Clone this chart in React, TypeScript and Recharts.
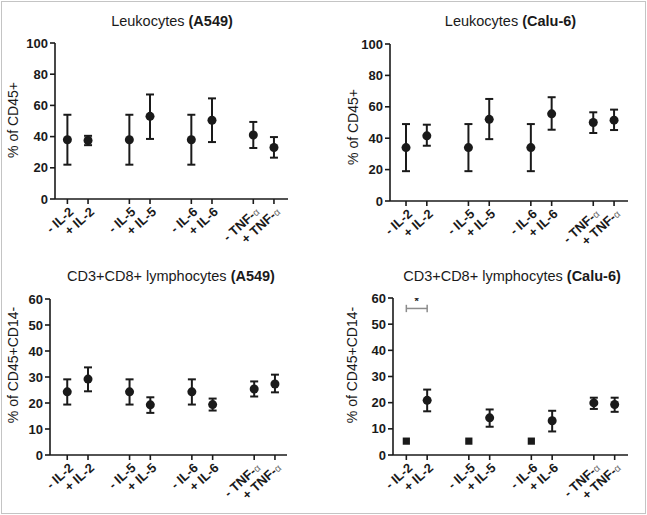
import React from 'react';
import { ScatterChart, Scatter, XAxis, YAxis, ErrorBar, ReferenceLine } from 'recharts';

// ---------- data ----------
const positions = [0, 1, 3, 4, 6, 7, 9, 10];
const xLabels = ['- IL-2', '+ IL-2', '- IL-5', '+ IL-5', '- IL-6', '+ IL-6', '- TNF-α', '+ TNF-α'];

const leukA549Mean = [38, 37.5, 38, 53, 38, 50.5, 41, 33];
const leukA549Low = [22, 34.5, 22, 38.5, 22, 36.5, 32.7, 26.5];
const leukA549High = [54, 40.5, 54, 67, 54, 64.5, 49.4, 39.7];

const leukCaluMean = [34, 41.5, 34, 52, 34, 55.5, 50, 51.5];
const leukCaluLow = [19, 35.2, 19, 39.4, 19, 45.4, 43.3, 45.2];
const leukCaluHigh = [49, 48.6, 49, 65, 49, 66.1, 56.5, 58.2];

const cd8A549Mean = [24.3, 29.2, 24.3, 19.3, 24.3, 19.4, 25.4, 27.3];
const cd8A549Low = [19.4, 24.5, 19.4, 16.2, 19.4, 17.1, 22.5, 24.1];
const cd8A549High = [29.1, 33.7, 29.1, 22.2, 29.1, 21.7, 28.3, 30.9];

const cd8CaluMean = [5.3, 20.9, 5.3, 14.2, 5.3, 13.1, 19.9, 19.3];
const cd8CaluLow: (number | null)[] = [null, 16.7, null, 10.8, null, 9.0, 17.6, 16.5];
const cd8CaluHigh: (number | null)[] = [null, 25.0, null, 17.4, null, 16.9, 21.9, 21.9];

const leukTicks = [0, 20, 40, 60, 80, 100];
const cd8Ticks = [0, 10, 20, 30, 40, 50, 60];

const sigBracketY = 56;
const sigStarY = 59.6;

// ---------- helpers ----------
const FONT = '"Liberation Sans", Arial, Helvetica, sans-serif';
const INK = '#1a1a1a';

function buildPoints(mean: number[], low: (number | null)[], high: (number | null)[]) {
  const out: any[] = [];
  mean.forEach((m, i) => {
    const lo = low[i];
    const hi = high[i];
    if (lo !== null && hi !== null) out.push({ x: positions[i], y: m, err: [m - lo, hi - m] });
  });
  return out;
}
function buildSquares(mean: number[], low: (number | null)[]) {
  const out: any[] = [];
  mean.forEach((m, i) => {
    if (low[i] === null) out.push({ x: positions[i], y: m });
  });
  return out;
}

const Circle = (p: any) => <circle cx={p.cx} cy={p.cy} r={4.5} fill={INK} />;
const Square = (p: any) => <rect x={p.cx - 3.6} y={p.cy - 3.6} width={7.2} height={7.2} fill={INK} />;
const Star = (p: any) => (
  <text x={p.cx} y={p.cy + 6} textAnchor="middle" fontSize={11} fontWeight="bold" fill={INK} fontFamily={FONT}>
    *
  </text>
);

const renderXTick = (props: any) => {
  const { x, y, payload } = props;
  const idx = positions.indexOf(payload.value);
  const label = idx >= 0 ? xLabels[idx] : '';
  const hasAlpha = label.endsWith('α');
  const main = hasAlpha ? label.slice(0, -1) : label;
  return (
    <g transform={`translate(${x + 7},${y + 7}) rotate(-42)`}>
      <text x={0} y={0} textAnchor="end" fontSize={13} fontWeight="bold" fill={INK} fontFamily={FONT}>
        {main}
        {hasAlpha ? (
          <tspan fontSize={10} fontWeight="normal" fill="#666">α</tspan>
        ) : null}
      </text>
    </g>
  );
};

const renderYTick = (props: any) => {
  const { x, y, payload } = props;
  return (
    <text x={x} y={y} dy={4.5} textAnchor="end" fontSize={13} fontWeight="bold" fill={INK} fontFamily={FONT}>
      {payload.value}
    </text>
  );
};

type PanelProps = {
  left: number; top: number; width: number; height: number;
  yAxisWidth: number; marginTop: number; marginRight: number; xAxisHeight: number;
  xDomain: [number, number]; yTicks: number[];
  points: any[]; squares?: any[];
  title: string; titleBold: string; titleCx: number; titleBaseline: number;
  yLabel: string; yLabelCx: number; yLabelCy: number;
  sig?: boolean;
};

function Panel(p: PanelProps) {
  const yMax = p.yTicks[p.yTicks.length - 1];
  const fs = 14.5;
  return (
    <div style={{ position: 'absolute', left: p.left, top: p.top, width: p.width, height: p.height }}>
      <div
        style={{
          position: 'absolute', left: p.titleCx - 150, width: 300, textAlign: 'center',
          top: p.titleBaseline - fs * 0.8465, fontSize: fs, lineHeight: `${fs}px`, fontFamily: FONT, color: INK,
          whiteSpace: 'nowrap',
        }}
      >
        {p.title}<b>{p.titleBold}</b>
      </div>
      <ScatterChart
        width={p.width}
        height={p.height}
        margin={{ top: p.marginTop, right: p.marginRight, left: 0, bottom: 0 }}
      >
        <XAxis
          type="number"
          dataKey="x"
          domain={p.xDomain}
          allowDataOverflow
          ticks={positions}
          interval={0}
          height={p.xAxisHeight}
          tick={renderXTick}
          tickSize={5}
          axisLine={{ stroke: INK, strokeWidth: 1.6 }}
          tickLine={{ stroke: INK, strokeWidth: 1.6 }}
        />
        <YAxis
          type="number"
          dataKey="y"
          domain={[0, yMax]}
          allowDataOverflow
          ticks={p.yTicks}
          interval={0}
          width={p.yAxisWidth}
          tickSize={5}
          tickMargin={2}
          tick={renderYTick}
          axisLine={{ stroke: INK, strokeWidth: 1.6 }}
          tickLine={{ stroke: INK, strokeWidth: 1.6 }}
          label={{
            content: () => (
              <text
                x={p.yLabelCx}
                y={p.yLabelCy}
                transform={`rotate(-90 ${p.yLabelCx} ${p.yLabelCy})`}
                textAnchor="middle"
                dominantBaseline="central"
                fontSize={14}
                fill={INK}
                fontFamily={FONT}
              >
                {p.yLabel}
              </text>
            ),
          }}
        />
        {p.sig ? (
          <ReferenceLine
            segment={[{ x: positions[0], y: sigBracketY }, { x: positions[1], y: sigBracketY }]}
            stroke="#8c8c8c"
            strokeWidth={1.5}
          />
        ) : null}
        {p.sig ? (
          <ReferenceLine
            segment={[{ x: positions[0], y: sigBracketY - 1.4 }, { x: positions[0], y: sigBracketY + 1.4 }]}
            stroke="#8c8c8c"
            strokeWidth={1.5}
          />
        ) : null}
        {p.sig ? (
          <ReferenceLine
            segment={[{ x: positions[1], y: sigBracketY - 1.4 }, { x: positions[1], y: sigBracketY + 1.4 }]}
            stroke="#8c8c8c"
            strokeWidth={1.5}
          />
        ) : null}
        {p.sig ? (
          <Scatter
            data={[{ x: (positions[0] + positions[1]) / 2, y: sigStarY }]}
            shape={Star}
            isAnimationActive={false}
          />
        ) : null}
        <Scatter data={p.points} shape={Circle} isAnimationActive={false}>
          <ErrorBar dataKey="err" direction="y" width={4} strokeWidth={2} stroke={INK} />
        </Scatter>
        {p.squares ? <Scatter data={p.squares} shape={Square} isAnimationActive={false} /> : null}
      </ScatterChart>
    </div>
  );
}

export default function App() {
  return (
    <div style={{ position: 'absolute', left: 0, top: 0, width: 647, height: 515, background: '#fff', fontFamily: FONT }}>
      <div
        style={{
          position: 'absolute', left: 1, top: 1, width: 645, height: 513, boxSizing: 'border-box',
          border: '1px solid #c4c4c4',
        }}
      />
      <Panel
        left={0} top={0} width={323} height={257}
        yAxisWidth={55} marginTop={43} marginRight={35} xAxisHeight={58}
        xDomain={[-0.6, 10.68]} yTicks={leukTicks}
        points={buildPoints(leukA549Mean, leukA549Low, leukA549High)}
        title="Leukocytes " titleBold="(A549)" titleCx={172} titleBaseline={26}
        yLabel="% of CD45+" yLabelCx={13} yLabelCy={120}
      />
      <Panel
        left={323} top={0} width={324} height={257}
        yAxisWidth={67} marginTop={44} marginRight={19} xAxisHeight={56}
        xDomain={[-0.77, 10.67]} yTicks={leukTicks}
        points={buildPoints(leukCaluMean, leukCaluLow, leukCaluHigh)}
        title="Leukocytes " titleBold="(Calu-6)" titleCx={187.5} titleBaseline={26.5}
        yLabel="% of CD45+" yLabelCx={30} yLabelCy={127}
      />
      <Panel
        left={0} top={257} width={323} height={258}
        yAxisWidth={50} marginTop={42} marginRight={36} xAxisHeight={60}
        xDomain={[-0.83, 10.58]} yTicks={cd8Ticks}
        points={buildPoints(cd8A549Mean, cd8A549Low, cd8A549High)}
        title="CD3+CD8+ lymphocytes " titleBold="(A549)" titleCx={171} titleBaseline={24}
        yLabel="% of CD45+CD14-" yLabelCx={13} yLabelCy={108}
      />
      <Panel
        left={323} top={257} width={324} height={258}
        yAxisWidth={70} marginTop={41} marginRight={19} xAxisHeight={60}
        xDomain={[-0.64, 10.64]} yTicks={cd8Ticks}
        points={buildPoints(cd8CaluMean, cd8CaluLow, cd8CaluHigh)}
        squares={buildSquares(cd8CaluMean, cd8CaluLow)}
        title="CD3+CD8+ lymphocytes " titleBold="(Calu-6)" titleCx={189} titleBaseline={24}
        yLabel="% of CD45+CD14-" yLabelCx={29} yLabelCy={108}
        sig
      />
    </div>
  );
}
